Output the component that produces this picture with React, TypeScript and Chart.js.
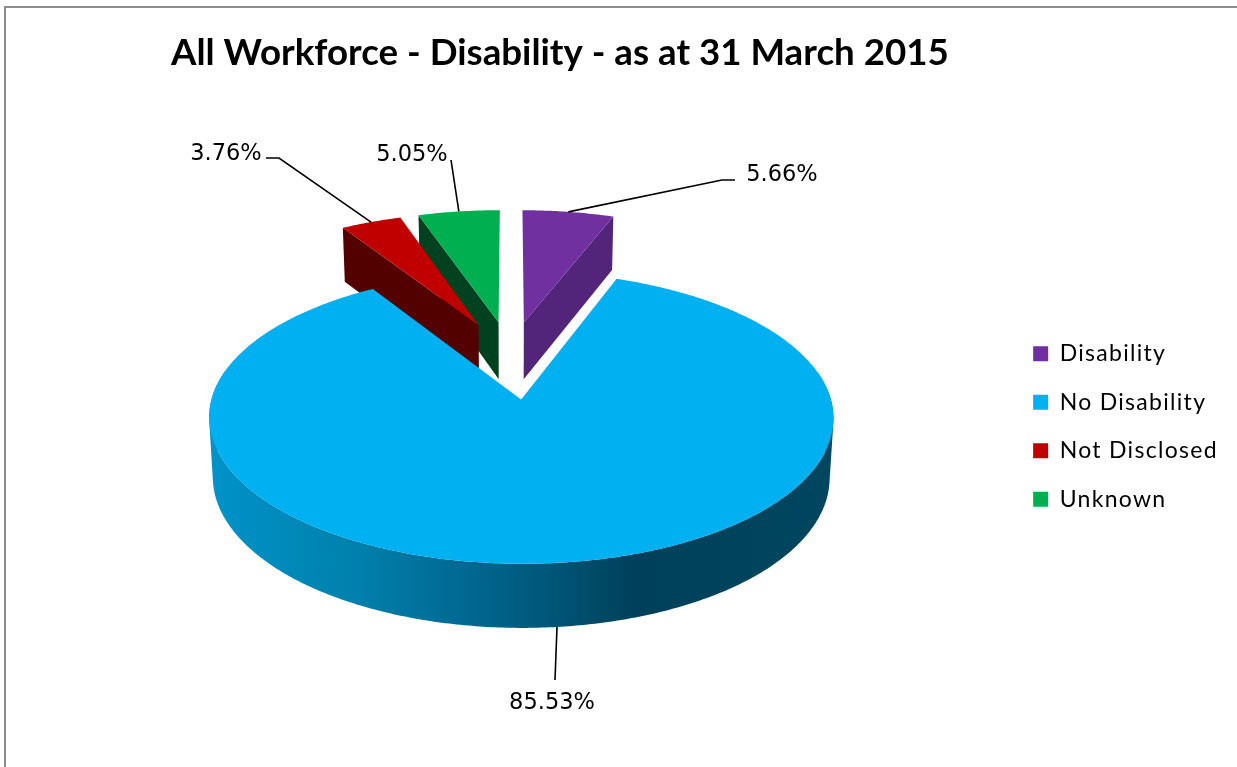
import React, { useEffect, useRef } from "react";
import { Chart, registerables } from "chart.js";

Chart.register(...registerables);

const categories = ["Disability", "No Disability", "Not Disclosed", "Unknown"];
const shares = [5.66, 85.53, 3.76, 5.05];
const faceColors = ["#7030a0", "#00b0f0", "#c00000", "#00b050"];
const wallColors = ["#52247a", "#004a68", "#520000", "#004120"];
const explosion = [29, 29, 29, 29];
const titleText = "All Workforce - Disability - as at 31 March 2015";

// 3D view of the pie
const VIEW = { cx: 510.5, cy: 359.5, bx: 299, ay: 134, k: 0.12, depth: 58, baseShrink: 0.988, explodeX: 0.9, explodeXBig: 1.2 };
const sideStops: [number, string][] = [
  [215, "#0092c8"],
  [360, "#0080ab"],
  [453, "#006b95"],
  [550, "#005678"],
  [635, "#00405a"],
  [833, "#00465f"],
];
// leader routes: text centre and the fixed part of the line, per slice
const labelCentres: [number, number][] = [[782, 175], [552, 703], [226, 154], [412, 155]];
const leaderBends: [number, number][][] = [
  [[722, 180], [735, 180]],
  [[555, 680]],
  [[279, 158], [266, 158]],
  [[451, 160]],
];

type Pt = [number, number];
const project = (u: number, v: number): Pt => {
  const f = 1 / (1 + VIEW.k * v);
  return [VIEW.cx + VIEW.bx * u * f, VIEW.cy - VIEW.ay * v * f];
};
const lower = (u: number, v: number): Pt => {
  const f = 1 / (1 + VIEW.k * v);
  const [x, y] = project(u, v);
  return [VIEW.cx + (x - VIEW.cx) * VIEW.baseShrink, y + VIEW.depth * Math.pow(f, 0.6)];
};
const area = (q: Pt[]) =>
  q.reduce((s, p, i) => {
    const n = q[(i + 1) % q.length];
    return s + p[0] * n[1] - n[0] * p[1];
  }, 0);

const pie3d = {
  id: "pie3d",
  beforeDraw(chart: any) {
    const { ctx } = chart;
    ctx.save();
    ctx.strokeStyle = "#8c8c8c";
    ctx.lineWidth = 2;
    ctx.beginPath();
    ctx.moveTo(5, 767);
    ctx.lineTo(5, 7);
    ctx.lineTo(1237, 7);
    ctx.stroke();
    ctx.restore();
    const legend = chart.legend;
    if (legend && !legend.__spaced) {
      legend.__spaced = true;
      const d = legend.draw;
      legend.draw = function (...a: any[]) {
        const r = this.right;
        this.right = chart.width;
        ctx.letterSpacing = "1.3px";
        d.apply(this, a);
        ctx.letterSpacing = "0px";
        this.right = r;
      };
    }
  },
  beforeDatasetDraw(chart: any) {
    const { ctx } = chart;
    const arcs = chart.getDatasetMeta(0).data;
    const slices = arcs.map((arc: any, i: number) => {
      const a0 = arc.startAngle + Math.PI / 2;
      const a1 = arc.endAngle + Math.PI / 2;
      const mid = (a0 + a1) / 2;
      const e = arc.options.offset / 100;
      const big = a1 - a0 > Math.PI;
      return { i, a0, a1, mid, big, ou: e * Math.sin(mid) * (big ? VIEW.explodeXBig : VIEW.explodeX), ov: e * Math.cos(mid) };
    });
    const trace = (pts: Pt[]) => {
      pts.forEach((p, n) => (n ? ctx.lineTo(p[0], p[1]) : ctx.moveTo(p[0], p[1])));
      ctx.closePath();
    };
    const poly = (pts: Pt[], fill: any) => {
      ctx.fillStyle = fill;
      ctx.beginPath();
      trace(pts);
      ctx.fill();
    };
    const grad = ctx.createLinearGradient(208, 0, 833, 0);
    sideStops.forEach(([x, c]) => grad.addColorStop((x - 208) / 625, c));
    ctx.save();
    [...slices]
      .sort((a: any, b: any) => b.ov - a.ov)
      .forEach((s: any) => {
        const n = Math.max(8, Math.ceil((s.a1 - s.a0) * 90));
        const top: Pt[] = [];
        const bot: Pt[] = [];
        const angle: number[] = [];
        for (let j = 0; j <= n; j++) {
          const t = s.a0 + ((s.a1 - s.a0) * j) / n;
          const u = s.ou + Math.sin(t);
          const v = s.ov + Math.cos(t);
          top.push(project(u, v));
          bot.push(lower(u, v));
          angle.push(t);
        }
        const at = project(s.ou, s.ov);
        const ab = lower(s.ou, s.ov);
        const wall = wallColors[s.i];
        if (s.big) {
          // curved side: one path, only the part facing the viewer
          ctx.fillStyle = grad;
          ctx.beginPath();
          for (let j = 0; j < n; j++) {
            if (Math.cos(angle[j]) > 0.2) continue;
            let q: Pt[] = [top[j], top[j + 1], bot[j + 1], bot[j]];
            if (area(q) < 0) q = q.reverse();
            trace(q);
          }
          ctx.fill("nonzero");
        } else if (Math.sin(s.mid) > 0) {
          poly([at, top[n], bot[n], ab], wall);
        } else {
          poly([at, top[0], bot[0], ab], wall);
        }
        poly([at, ...top], faceColors[s.i]);
      });

    ctx.font = "22.5px 'DejaVu Sans'";
    ctx.textAlign = "center";
    ctx.textBaseline = "middle";
    slices.forEach((s: any) => {
      const u = s.ou + Math.sin(s.mid);
      const v = s.ov + Math.cos(s.mid);
      const front = Math.cos(s.mid) < 0;
      const anchor = front ? lower(u, v) : project(u, v);
      ctx.strokeStyle = "#000";
      ctx.lineWidth = 1.6;
      ctx.beginPath();
      ctx.moveTo(anchor[0], anchor[1]);
      leaderBends[s.i].forEach((p) => ctx.lineTo(p[0], p[1]));
      ctx.stroke();
      ctx.fillStyle = "#000";
      const c = labelCentres[s.i];
      ctx.fillText(shares[s.i].toFixed(2) + "%", c[0], c[1]);
    });
    ctx.restore();
    return false;
  },
};

export default function App() {
  const ref = useRef<HTMLCanvasElement>(null);
  useEffect(() => {
    const chart = new Chart(ref.current!, {
      type: "pie",
      data: {
        labels: categories,
        datasets: [
          {
            data: shares,
            backgroundColor: faceColors,
            borderWidth: 0,
            offset: explosion,
          },
        ],
      },
      options: {
        animation: false,
        responsive: false,
        layout: { padding: { left: 171, right: 26 } },
        plugins: {
          tooltip: { enabled: false },
          title: {
            display: true,
            text: titleText,
            align: "start",
            color: "#000",
            font: { family: "Lato", size: 36.7, weight: "bold", lineHeight: 1.2 },
            padding: { top: 31, bottom: 11 },
          },
          legend: {
            position: "right",
            fullSize: false,
            labels: {
              boxWidth: 15,
              boxHeight: 15,
              padding: 25.5,
              color: "#000",
              font: { family: "Lato", size: 23 },
            },
          },
        },
      },
      plugins: [pie3d],
    } as any);
    return () => chart.destroy();
  }, []);
  return (
    <canvas
      ref={ref}
      width={1237}
      height={767}
      style={{ position: "fixed", left: 0, top: 0, width: 1237, height: 767 }}
    />
  );
}
